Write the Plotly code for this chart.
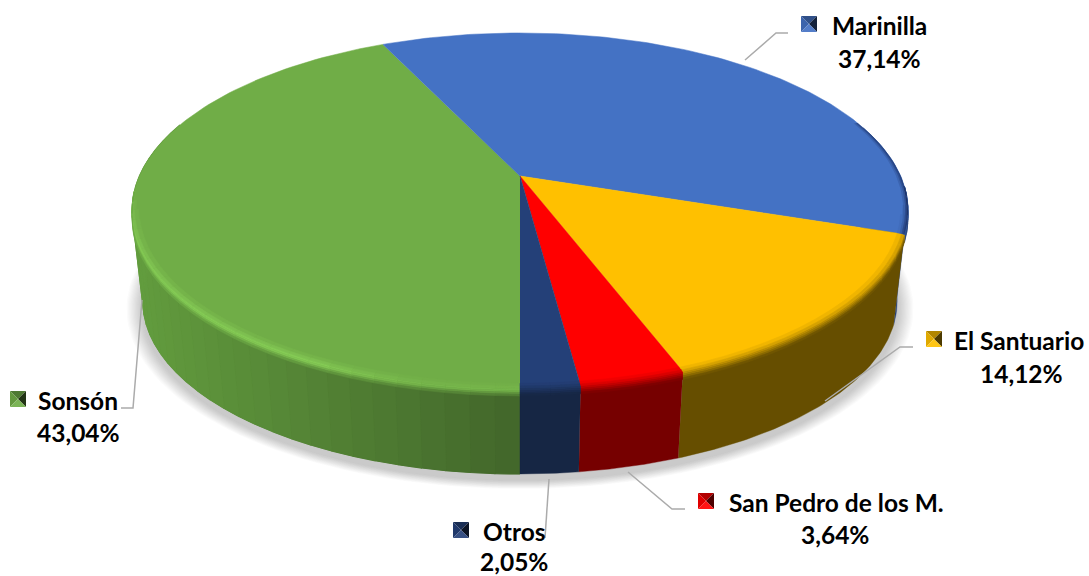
import numpy as np
import plotly.graph_objects as go

# ---- data ----
categories = ["Sonsón", "Marinilla", "El Santuario", "San Pedro de los M.", "Otros"]
values = [43.04, 37.14, 14.12, 3.64, 2.05]
value_labels = ["43,04%", "37,14%", "14,12%", "3,64%", "2,05%"]

# ---- style ----
top_colors = [(112, 173, 71), (68, 114, 196), (255, 192, 0), (255, 0, 0), (36, 64, 120)]
side_colors = [(84, 130, 53), (40, 66, 118), (102, 78, 0), (118, 0, 0), (22, 38, 68)]
W, H = 1089, 576
CX, CY, RX, RY, K = 520.0, 176.0, 380.6, 170.8, 0.194
DROP, SHRINK = 92.0, 0.972
BEVEL = 8.0

key_boxes = {"Sonsón": (10, 391), "Marinilla": (801, 16), "El Santuario": (926, 331),
             "San Pedro de los M.": (698, 493), "Otros": (453, 522)}
name_pos = {"Sonsón": (78, 400), "Marinilla": (879, 25), "El Santuario": (1019, 340),
            "San Pedro de los M.": (836, 502), "Otros": (514, 531)}
value_pos = {"Sonsón": (78, 432), "Marinilla": (879, 58), "El Santuario": (1021, 373),
             "San Pedro de los M.": (835, 534), "Otros": (514, 561)}
leaders = [[(745, 60), (776, 33), (788, 33)], [(825, 401), (900, 347), (913, 347)],
           [(628, 472), (672, 509), (685, 509)], [(549, 479), (545, 538)],
           [(142, 300), (133, 408), (121, 408)]]


def project(theta, r=1.0, drop=0.0, scale=1.0):
    """Perspective projection of a point of the pie's disc to page pixels."""
    u, v = np.sin(theta) * r, -np.cos(theta) * r
    s = scale / (1 - K * v)
    return CX + RX * u * s, CY + drop + RY * v * s


def rgb(c):
    return "rgb(%d,%d,%d)" % tuple(int(round(min(255, max(0, x)))) for x in c)


def mix(a, b, t):
    return tuple(x + (y - x) * t for x, y in zip(a, b))


def green_side(theta):
    f = np.clip((project(theta)[0] - 132) / 388, 0, 1)
    return mix((98, 156, 62), (66, 102, 42), f)


fig = go.Figure()


def poly(xs, ys, color, lw=0.7):
    fig.add_trace(go.Scatter(x=list(xs), y=list(ys), mode="lines", fill="toself", fillcolor=color,
                             line=dict(color=color, width=lw), hoverinfo="skip", showlegend=False))


# sector angles, clockwise, starting at the front of the pie
edges = np.radians(180 + np.concatenate([[0], np.cumsum(values)]) * 3.6 * 100 / sum(values))

# soft ground shadow
t_all = np.linspace(0, 2 * np.pi, 181)
for e in range(14, 0, -1):
    x, y = project(t_all, 1.0, DROP + 6, SHRINK + e * 0.003)
    poly(x, y, "rgba(90,90,90,0.022)", 0)

# side wall: one solid piece per sector, green gets a gradient on top of it
for i in range(len(values)):
    a, b = edges[i], edges[i + 1]
    ts = np.linspace(a, b, 90)
    ts = ts[-np.cos(ts) > -0.3]
    xt, yt = project(ts)
    xb, yb = project(ts[::-1], 1.0, DROP, SHRINK)
    poly(np.r_[xt, xb], np.r_[yt, yb], rgb(side_colors[i]), 0.4)
    if i == 0:
        n = 50
        g = np.linspace(a, b, n + 1)
        for j in range(n):
            tm = (g[j] + g[j + 1]) / 2
            if -np.cos(tm) < -0.3:
                continue
            xt, yt = project(np.array([g[j], g[j + 1]]))
            xb, yb = project(np.array([g[j + 1], g[j]]), 1.0, DROP, SHRINK)
            poly(np.r_[xt, xb], np.r_[yt, yb], rgb(green_side(tm)), 1.2)

# top face
for i in range(len(values)):
    t = np.linspace(edges[i], edges[i + 1], 120)
    x, y = project(t)
    poly(np.r_[CX, x], np.r_[CY, y], rgb(top_colors[i]), 0.5)

# bevel between top face and wall
LAYERS = 6
for i in range(len(values)):
    a, b = edges[i], edges[i + 1]
    n = max(2, int((b - a) / np.radians(3)))
    ts = np.linspace(a, b, n + 1)
    for j in range(n):
        seg = np.linspace(ts[j], ts[j + 1], 4)
        tm = (ts[j] + ts[j + 1]) / 2
        vm = -np.cos(tm)
        dim = np.clip((vm - 0.08) / 0.15, 0, 1)
        if dim <= 0:
            continue
        if i == 0:
            side = green_side(tm)
            fade = np.clip((vm + 0.05) / 0.4, 0, 1) * np.clip((1.02 - vm) / 0.12, 0.35, 1)
            light = mix(top_colors[0], (134, 204, 86), fade)
        else:
            side = side_colors[i]
            light = top_colors[i]
        for L in range(LAYERS):
            d0, d1 = L / LAYERS, (L + 1) / LAYERS
            if i == 0:
                c = mix(top_colors[0], light, (d0 + 0.1) / 0.45) if d0 < 0.45 else mix(light, side, (d0 - 0.45) / 0.55)
            else:
                c = mix(top_colors[i], side, d0 + 0.1)
            # layers run from 3 px inside the rim to BEVEL px below it
            off0, off1 = -3 + d0 * (BEVEL + 3), -3 + d1 * (BEVEL + 3)
            x0, y0 = project(seg, 1.0, max(off0, 0) * dim)
            x1, y1 = project(seg[::-1], 1.0, max(off1, 0) * dim)
            if off0 < 0:
                x0, y0 = project(seg, 1 + off0 / 170 * dim)
            if off1 < 0:
                x1, y1 = project(seg[::-1], 1 + off1 / 170 * dim)
            poly(np.r_[x0, x1], np.r_[y0, y1], rgb(c), 0.6)

# dark rim along the right of the blue sector
for d, alpha in [(0.012, 0.18), (0.007, 0.28), (0.003, 0.38)]:
    t = np.linspace(edges[2] - np.radians(38), edges[2], 40)
    x0, y0 = project(t, 1.0)
    x1, y1 = project(t[::-1], 1 - d)
    poly(np.r_[x0, x1], np.r_[y0, y1], "rgba(20,40,90,%g)" % alpha, 0)

# leader lines
for pts in leaders:
    fig.add_trace(go.Scatter(x=[p[0] for p in pts], y=[p[1] for p in pts], mode="lines",
                             line=dict(color="#ababab", width=1.5), hoverinfo="skip", showlegend=False))

# legend keys (bevelled squares) and labels
KEY = 16
annotations = []
for i, name in enumerate(categories):
    kx, ky = key_boxes[name]
    c = top_colors[i]
    mx, my = kx + KEY / 2, ky + KEY / 2
    poly([kx, kx + KEY, mx], [ky, ky, my], rgb(mix(c, (0, 0, 0), 0.3)), 0)
    poly([kx, kx, mx], [ky, ky + KEY, my], rgb(mix(c, (0, 0, 0), 0.12)), 0)
    poly([kx + KEY, kx + KEY, mx], [ky, ky + KEY, my], rgb(mix(c, (0, 0, 0), 0.7)), 0)
    poly([kx, kx + KEY, mx], [ky + KEY, ky + KEY, my], rgb(mix(c, (255, 255, 255), 0.08)), 0)
    for text, (tx, ty) in ((name, name_pos[name]), (value_labels[i], value_pos[name])):
        annotations.append(dict(x=tx, y=ty, text="<b>%s</b>" % text, showarrow=False, xanchor="center",
                                yanchor="middle", font=dict(family="Lato", size=24.5, color="#000000")))

fig.update_layout(width=W, height=H, margin=dict(l=0, r=0, t=0, b=0), showlegend=False,
                  paper_bgcolor="white", plot_bgcolor="white", annotations=annotations,
                  xaxis=dict(range=[0, W], visible=False, fixedrange=True),
                  yaxis=dict(range=[H, 0], visible=False, fixedrange=True))
fig.write_html("out.html", config=dict(displayModeBar=False),
               post_script="document.body.style.margin='0';document.documentElement.style.overflow='hidden';")
